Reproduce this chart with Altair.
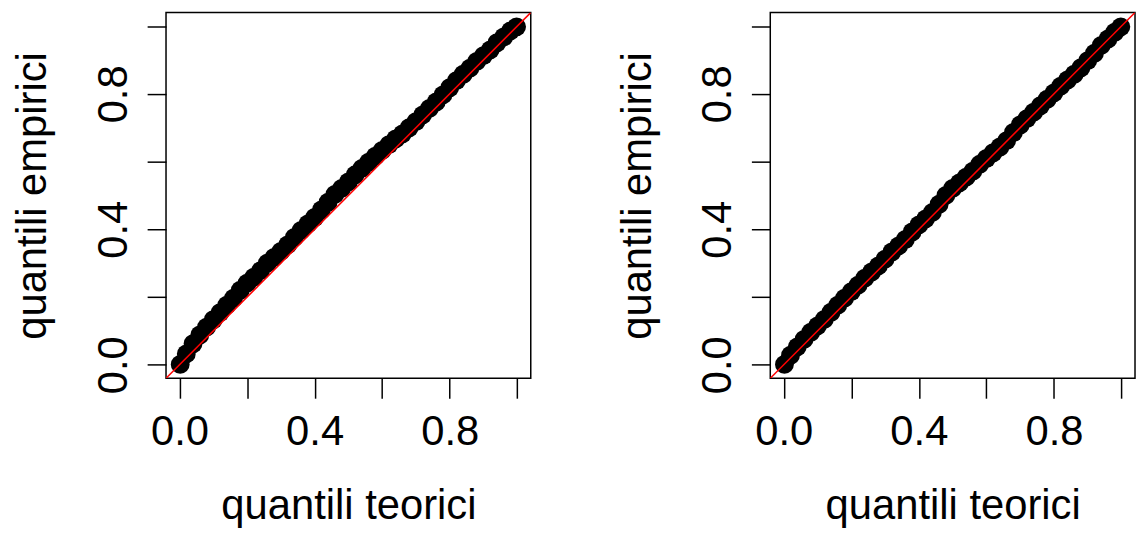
import altair as alt
import pandas as pd

# theoretical quantiles (x) shared by both panels
theo = [0.002, 0.02, 0.04, 0.06, 0.08, 0.10, 0.12, 0.14, 0.16, 0.18,
        0.20, 0.22, 0.24, 0.26, 0.28, 0.30, 0.32, 0.34, 0.36, 0.38,
        0.40, 0.42, 0.44, 0.46, 0.48, 0.50, 0.52, 0.54, 0.56, 0.58,
        0.60, 0.62, 0.64, 0.66, 0.68, 0.70, 0.72, 0.74, 0.76, 0.78,
        0.80, 0.82, 0.84, 0.86, 0.88, 0.90, 0.92, 0.94, 0.96, 0.98, 0.998]

# empirical quantiles, left panel
emp_left = [0.001, 0.032, 0.062, 0.088, 0.111, 0.133, 0.154, 0.176, 0.197, 0.220,
            0.241, 0.259, 0.278, 0.300, 0.317, 0.335, 0.354, 0.376, 0.397, 0.416,
            0.435, 0.457, 0.480, 0.503, 0.521, 0.540, 0.561, 0.580, 0.598, 0.616,
            0.633, 0.650, 0.667, 0.682, 0.700, 0.718, 0.738, 0.757, 0.776, 0.797,
            0.818, 0.839, 0.858, 0.876, 0.896, 0.913, 0.930, 0.951, 0.968, 0.986, 0.998]

# empirical quantiles, right panel
emp_right = [0.001, 0.028, 0.053, 0.075, 0.096, 0.115, 0.134, 0.155, 0.176, 0.197,
             0.216, 0.235, 0.256, 0.274, 0.292, 0.312, 0.333, 0.351, 0.370, 0.392,
             0.413, 0.431, 0.450, 0.474, 0.500, 0.521, 0.537, 0.554, 0.572, 0.592,
             0.609, 0.626, 0.643, 0.662, 0.686, 0.708, 0.727, 0.746, 0.765, 0.784,
             0.803, 0.823, 0.841, 0.858, 0.877, 0.898, 0.920, 0.943, 0.962, 0.982, 0.998]

# reference line y = x across the whole plot region
ref_line = [-0.04, 1.04]
tick_values = [0.0, 0.2, 0.4, 0.6, 0.8, 1.0]
x_title = "quantili teorici"
y_title = "quantili empirici"

FONT = "Liberation Sans"
FS = 42
DOMAIN = [-0.04, 1.04]
LABEL_EXPR = "round(datum.value*10) % 4 == 0 ? format(datum.value, '.1f') : ''"


def panel(emp):
    df = pd.DataFrame({"t": theo, "e": emp})
    ref = pd.DataFrame({"t": ref_line, "e": ref_line})
    xs = alt.Scale(domain=DOMAIN, nice=False, zero=False)
    ys = alt.Scale(domain=DOMAIN, nice=False, zero=False)
    xaxis = alt.Axis(values=tick_values, title=x_title, labelExpr=LABEL_EXPR,
                     tickSize=20, labelPadding=14, titlePadding=33,
                     labelAngle=0)
    yaxis = alt.Axis(values=tick_values, title=y_title, labelExpr=LABEL_EXPR,
                     tickSize=19, labelPadding=12, titlePadding=38,
                     labelAngle=-90)
    pts = alt.Chart(df).mark_circle(size=360, color="black", opacity=1).encode(
        x=alt.X("t:Q", scale=xs, axis=xaxis),
        y=alt.Y("e:Q", scale=ys, axis=yaxis),
    )
    line = alt.Chart(ref).mark_line(color="#FF0000", strokeWidth=1.5, clip=True).encode(
        x=alt.X("t:Q", scale=xs, axis=xaxis),
        y=alt.Y("e:Q", scale=ys, axis=yaxis),
    )
    return alt.layer(pts, line).properties(width=367, height=368)


chart = alt.hconcat(panel(emp_left), panel(emp_right), spacing=84).properties(
    padding={"left": 3, "top": 2, "right": 1, "bottom": 0}
).configure_view(
    stroke="black", strokeWidth=1.5
).configure_axis(
    domain=False, grid=False,
    tickColor="black", tickWidth=1.5,
    labelFont=FONT, labelFontSize=FS, labelColor="black",
    labelFlush=False, labelOverlap=False,
    titleFont=FONT, titleFontSize=FS, titleFontWeight="normal", titleColor="black",
)

chart.save("out.html", embed_options={"renderer": "svg", "actions": False})
